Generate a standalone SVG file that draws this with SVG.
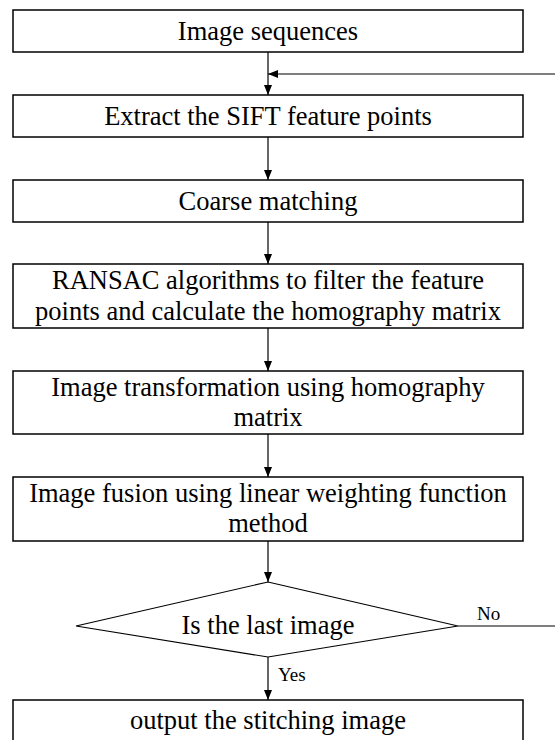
<svg xmlns="http://www.w3.org/2000/svg" width="555" height="740" viewBox="0 0 555 740">
<style>
.box{fill:#fff;stroke:#000;stroke-width:1.5}
.t{font-family:"Liberation Serif","Times New Roman",serif;font-size:26.5px;fill:#000;text-anchor:middle}
.s{font-family:"Liberation Serif","Times New Roman",serif;font-size:19px;fill:#000}
.c{fill:none;stroke:#000;stroke-width:1.2}
</style>
<defs>
<marker id="ah" viewBox="0 0 10 8" refX="10" refY="4" markerWidth="10" markerHeight="8" markerUnits="userSpaceOnUse" orient="auto">
<path d="M0,0 L10,4 L0,8 z" fill="#000"/>
</marker>
</defs>
<rect width="555" height="740" fill="#fff"/>
<g id="connectors">
<line class="c" x1="268" y1="52" x2="268" y2="95" marker-end="url(#ah)"/>
<line class="c" x1="555" y1="74" x2="268" y2="74" marker-end="url(#ah)"/>
<line class="c" x1="268" y1="137" x2="268" y2="180" marker-end="url(#ah)"/>
<line class="c" x1="268" y1="222" x2="268" y2="264" marker-end="url(#ah)"/>
<line class="c" x1="268" y1="328" x2="268" y2="371" marker-end="url(#ah)"/>
<line class="c" x1="268" y1="434" x2="268" y2="477" marker-end="url(#ah)"/>
<line class="c" x1="268" y1="541" x2="268" y2="582" marker-end="url(#ah)"/>
<line class="c" x1="268" y1="657" x2="268" y2="700" marker-end="url(#ah)"/>
<line class="c" x1="458" y1="626" x2="555" y2="626"/>
<text class="s" x="477" y="620">No</text>
<text class="s" x="278" y="681">Yes</text>
</g>
<g id="n1"><rect class="box" x="13" y="10" width="510" height="42"/><text class="t" x="268" y="40">Image sequences</text></g>
<g id="n2"><rect class="box" x="13" y="95" width="510" height="42"/><text class="t" x="268" y="125">Extract the SIFT feature points</text></g>
<g id="n3"><rect class="box" x="13" y="180" width="510" height="42"/><text class="t" x="268" y="210">Coarse matching</text></g>
<g id="n4"><rect class="box" x="13" y="264" width="510" height="64"/><text class="t" x="268" y="289">RANSAC algorithms to filter the feature</text><text class="t" x="268" y="320">points and calculate the homography matrix</text></g>
<g id="n5"><rect class="box" x="13" y="371" width="510" height="63"/><text class="t" x="268" y="396">Image transformation using homography</text><text class="t" x="268" y="426">matrix</text></g>
<g id="n6"><rect class="box" x="13" y="477" width="510" height="64"/><text class="t" x="268" y="502">Image fusion using linear weighting function</text><text class="t" x="268" y="532">method</text></g>
<g id="n7"><polygon class="box" points="268,582 458,626 268,657 76,626" style="stroke-width:1.2"/><text class="t" x="268" y="634">Is the last image</text></g>
<g id="n8"><rect class="box" x="13" y="700" width="510" height="50"/><text class="t" x="268" y="729">output the stitching image</text></g>
</svg>
